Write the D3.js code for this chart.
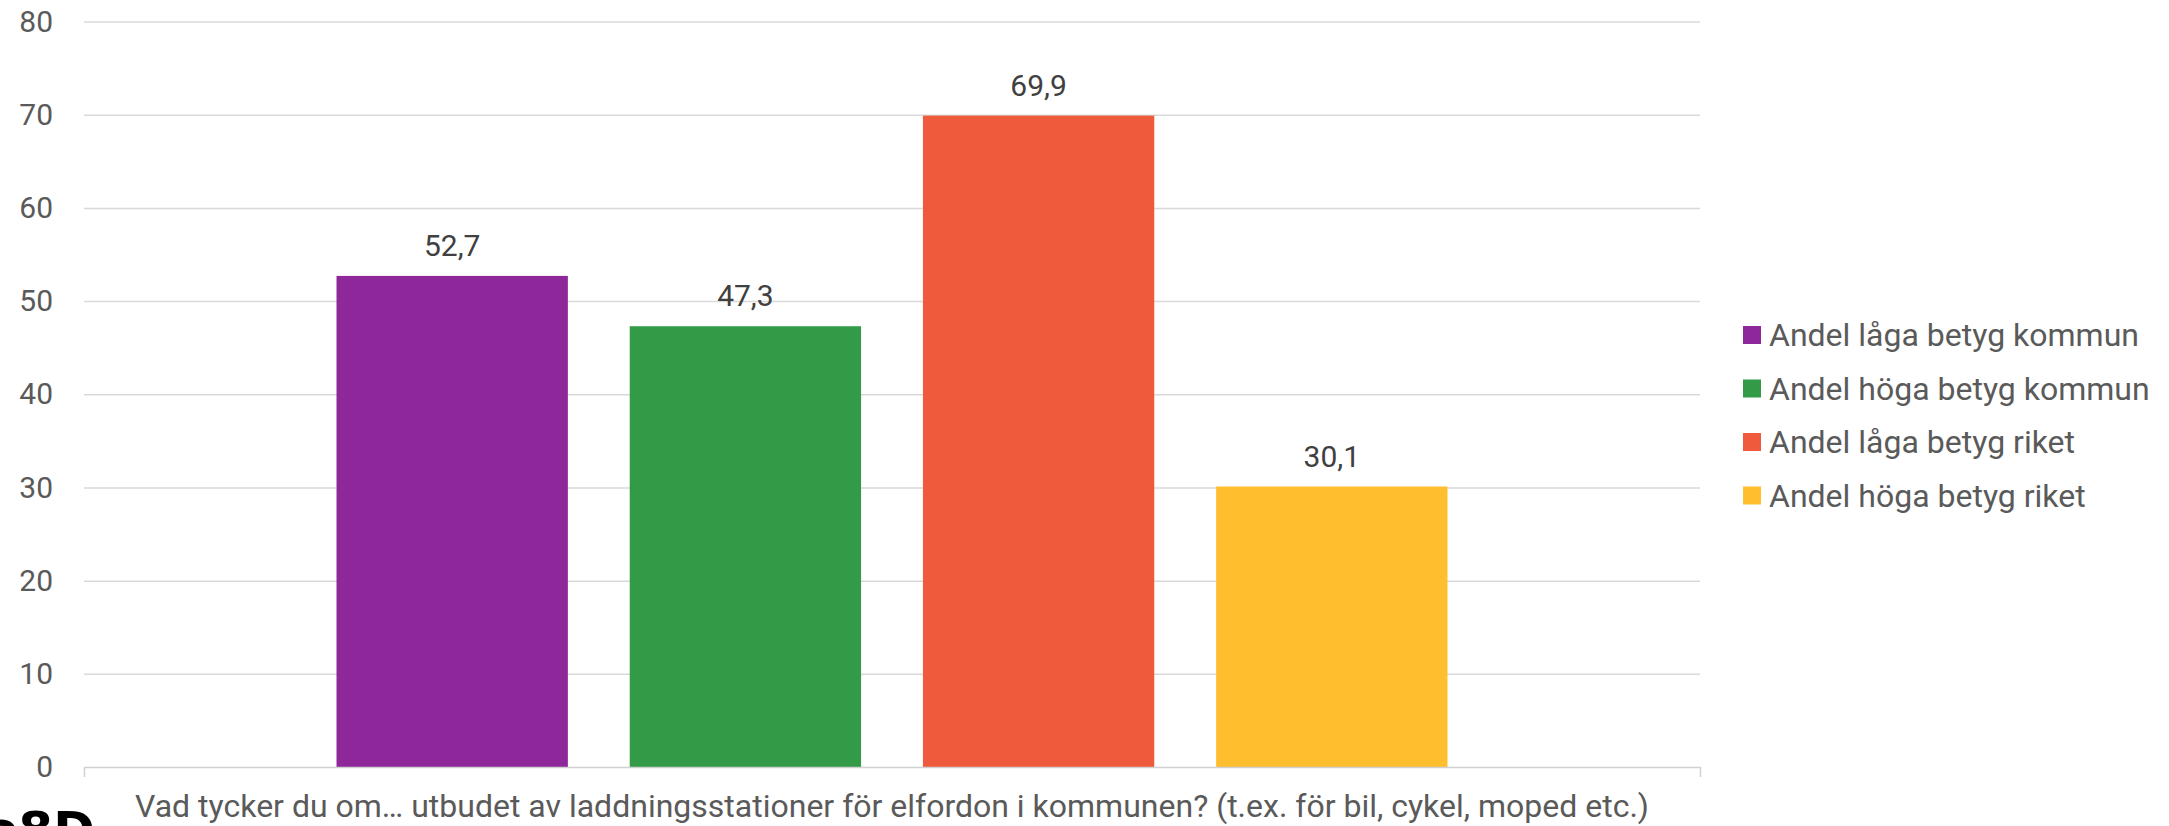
<!DOCTYPE html>
<html>
<head>
<meta charset="utf-8">
<script src="https://cdn.jsdelivr.net/npm/d3@7"></script>
<style>
  html, body { margin: 0; padding: 0; background: #fff; }
  svg { display: block; }
  text { font-family: Roboto, "Noto Sans", sans-serif; }
</style>
</head>
<body>
<svg id="chart" width="2169" height="826"></svg>
<script>
const categories = ["Vad tycker du om… utbudet av laddningsstationer för elfordon i kommunen? (t.ex. för bil, cykel, moped etc.)"];
const seriesNames = ["Andel låga betyg kommun", "Andel höga betyg kommun", "Andel låga betyg riket", "Andel höga betyg riket"];
const seriesValues = [52.7, 47.3, 69.9, 30.1];
const seriesColors = ["#8e279a", "#339b48", "#ef5a3c", "#ffbe2e"];
const yTicks = [0, 10, 20, 30, 40, 50, 60, 70, 80];

(function () {
const svg = d3.select("#chart");
const mLeft = 84, mRight = 1700, mTop = 21.5, mBottom = 767;

const y = d3.scaleLinear().domain([0, 80]).range([mBottom, mTop]);
const x0 = d3.scaleBand().domain(categories).range([mLeft, mRight]).paddingInner(0).paddingOuter(0.2273);
const x1 = d3.scaleBand().domain(seriesNames).range([0, x0.bandwidth()]).paddingInner(0.211).paddingOuter(0);

// gridlines + y labels
const yAxis = svg.append("g")
  .attr("transform", `translate(${mLeft},0)`)
  .call(d3.axisLeft(y).tickValues(yTicks).tickSize(-(mRight - mLeft)).tickPadding(31).tickFormat(d3.format("d")));
yAxis.select(".domain").remove();
yAxis.selectAll(".tick line").attr("stroke", "#d9d9d9").attr("stroke-width", 1.5)
  .filter(d => d === 0).remove();
yAxis.selectAll(".tick text").attr("fill", "#5a5a5a").style("font-size", "30px").style("font-family", "Roboto");

// bars
const grp = svg.append("g");
categories.forEach(cat => {
  const g = grp.append("g").attr("transform", `translate(${x0(cat)},0)`);
  g.selectAll("rect").data(seriesNames).join("rect")
    .attr("x", d => x1(d))
    .attr("width", x1.bandwidth())
    .attr("y", (d, i) => y(seriesValues[i]))
    .attr("height", (d, i) => y(0) - y(seriesValues[i]))
    .attr("fill", (d, i) => seriesColors[i]);
  g.selectAll("text.val").data(seriesNames).join("text")
    .attr("class", "val")
    .attr("x", d => x1(d) + x1.bandwidth() / 2)
    .attr("y", (d, i) => y(seriesValues[i]) - 20)
    .attr("text-anchor", "middle")
    .attr("fill", "#404040")
    .style("font-size", "30px")
    .text((d, i) => d3.format(".1f")(seriesValues[i]).replace(".", ","));
});

// x axis baseline with end ticks
const edge = d3.scaleLinear().domain([0, 1]).range([mLeft, mRight]);
const xAxis = svg.append("g")
  .attr("transform", `translate(0,${mBottom})`)
  .call(d3.axisBottom(edge).tickValues([0, 1]).tickFormat("").tickSizeInner(10).tickSizeOuter(0));
xAxis.select(".domain").attr("stroke", "#d0d0d0").attr("stroke-width", 1.5);
xAxis.selectAll(".tick line").attr("stroke", "#d0d0d0").attr("stroke-width", 1.5);

// category label
svg.append("text")
  .attr("x", x0(categories[0]) + x0.bandwidth() / 2)
  .attr("y", 817)
  .attr("text-anchor", "middle")
  .attr("fill", "#5a5a5a")
  .style("font-size", "32px")
  .text(categories[0]);

// legend
const legend = svg.append("g").attr("transform", "translate(1743,335)");
const li = legend.selectAll("g").data(seriesNames).join("g")
  .attr("transform", (d, i) => `translate(0,${i * 53.5})`);
li.append("rect").attr("x", 0).attr("y", -9).attr("width", 18).attr("height", 18)
  .attr("fill", (d, i) => seriesColors[i]);
li.append("text").attr("x", 26).attr("y", 0).attr("dy", "0.35em")
  .attr("fill", "#5a5a5a").style("font-size", "32px").text(d => d);

// partial logo at bottom-left (cropped in the original)
svg.append("text")
  .attr("x", -16).attr("y", 847)
  .attr("fill", "#000")
  .style("font-family", "'DejaVu Sans'")
  .style("font-weight", "bold")
  .style("font-size", "50px")
  .text("o8D");
})();
</script>
</body>
</html>
